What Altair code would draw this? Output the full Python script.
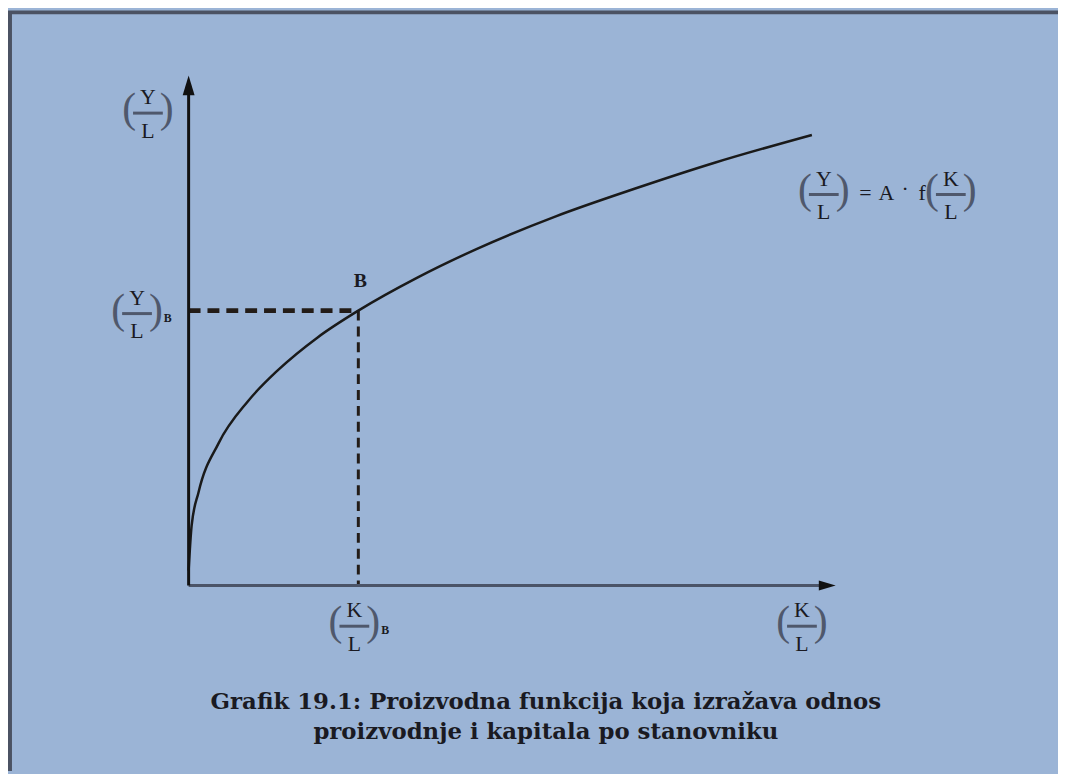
import altair as alt
import pandas as pd

# ---- data (K/L on x, Y/L on y, arbitrary units) ----
k_l = [0.0, 0.03, 0.1, 0.3, 0.6, 0.9, 1.3, 1.71, 2.3, 2.9, 3.7, 4.5, 5.3, 6.28]
y_l = [0.15, 0.60, 0.94, 1.43, 1.86, 2.17, 2.50, 2.77, 3.10, 3.39, 3.72, 4.00, 4.26, 4.54]
point_b = [1.71, 2.77]

frac_num = ["Y", "Y", "K", "K", "Y", "K"]
frac_den = ["L", "L", "L", "L", "L", "L"]
frac_sub = ["", "B", "B", "", "", ""]

formula_tokens = ["=", "A", "·", "f"]
caption_lines = [
    "Grafik 19.1: Proizvodna funkcija koja izražava odnos",
    "proizvodnje i kapitala po stanovniku",
]

# ---- layout (data units) ----
X_DOM = [-1.82, 8.76]
Y_DOM = [-1.87, 5.79]
frac_cx = [-0.41, -0.52, 1.67, 6.18, 6.40, 7.68]
frac_cy = [4.76, 2.74, -0.41, -0.41, 3.94, 3.94]
formula_x = [6.82, 7.03, 7.22, 7.39]
formula_y = [3.95, 3.95, 3.99, 3.95]
caption_x = 3.60
caption_y = [-1.17, -1.48]
y_arrow = 5.04
x_arrow = 6.435

BG = "#9BB4D6"
INK = "#1a1a22"
GREY = "#4f586c"

xs = alt.Scale(domain=X_DOM, nice=False, zero=False)
ys = alt.Scale(domain=Y_DOM, nice=False, zero=False)


def X(f):
    return alt.X(f, type="quantitative", scale=xs, axis=None)


def Y(f):
    return alt.Y(f, type="quantitative", scale=ys, axis=None)


def X2(f):
    return alt.X2(f)


def Y2(f):
    return alt.Y2(f)


# frame (top and left edges)
frame_top = alt.Chart(pd.DataFrame({"x": [X_DOM[0]], "x2": [X_DOM[1]], "y": [5.775]})).mark_rule(
    color="#4b5263", strokeWidth=4
).encode(x=X("x"), x2=X2("x2"), y=Y("y"))
frame_left = alt.Chart(pd.DataFrame({"x": [-1.80], "y": [Y_DOM[0]], "y2": [Y_DOM[1]]})).mark_rule(
    color="#4b5263", strokeWidth=4
).encode(x=X("x"), y=Y("y"), y2=Y2("y2"))

# axes
y_axis = alt.Chart(pd.DataFrame({"x": [0], "y": [0], "y2": [y_arrow]})).mark_rule(
    color="#111111", strokeWidth=3
).encode(x=X("x"), y=Y("y"), y2=Y2("y2"))
x_axis = alt.Chart(pd.DataFrame({"x": [0], "x2": [x_arrow], "y": [0]})).mark_rule(
    color="#4b5468", strokeWidth=3
).encode(x=X("x"), x2=X2("x2"), y=Y("y"))
y_head = alt.Chart(pd.DataFrame({"x": [0], "y": [y_arrow]})).mark_point(
    shape="M0,-1L0.6,1L-0.6,1Z", filled=True, size=400, color="#111111", opacity=1, strokeWidth=0
).encode(x=X("x"), y=Y("y"))
x_head = alt.Chart(pd.DataFrame({"x": [x_arrow], "y": [0]})).mark_point(
    shape="M1,0L-1,-0.6L-1,0.6Z", filled=True, size=289, color="#111111", opacity=1, strokeWidth=0
).encode(x=X("x"), y=Y("y"))

# curve
curve = alt.Chart(pd.DataFrame({"k": k_l, "y": y_l})).mark_line(
    interpolate="monotone", color="#1a1a1a", strokeWidth=2.5
).encode(x=X("k"), y=Y("y"), order="k:Q")

# dashed guides to B
bdf = pd.DataFrame({"x0": [0], "y0": [0], "bx": [point_b[0]], "by": [point_b[1]]})
h_dash = alt.Chart(bdf).mark_rule(strokeDash=[12, 7], strokeWidth=5, color="#231c18").encode(
    x=X("x0"), x2=X2("bx"), y=Y("by")
)
v_dash = alt.Chart(bdf).mark_rule(strokeDash=[10, 6], strokeWidth=3, color="#231c18").encode(
    x=X("bx"), y=Y("by"), y2=Y2("y0")
)
b_label = alt.Chart(bdf).mark_text(
    text="B", font="Liberation Serif", fontSize=20, fontWeight="bold", color=INK, dx=2, dy=-30
).encode(x=X("bx"), y=Y("by"))

# fractions
fdf = pd.DataFrame({"num": frac_num, "den": frac_den, "sub": frac_sub, "cx": frac_cx, "cy": frac_cy})
fbase = alt.Chart(fdf)
f_num = fbase.mark_text(font="Liberation Serif", fontSize=22, color=INK, dy=-16).encode(
    x=X("cx"), y=Y("cy"), text="num:N"
)
f_den = fbase.mark_text(font="Liberation Serif", fontSize=22, color=INK, dy=18).encode(
    x=X("cx"), y=Y("cy"), text="den:N"
)
f_lp = fbase.mark_text(text="(", font="Liberation Serif", fontSize=42, color=GREY, dx=-19, dy=-4).encode(
    x=X("cx"), y=Y("cy")
)
f_rp = fbase.mark_text(text=")", font="Liberation Serif", fontSize=42, color=GREY, dx=19, dy=-4).encode(
    x=X("cx"), y=Y("cy")
)
f_bar = fbase.transform_calculate(x1="datum.cx - 0.15", x2="datum.cx + 0.15").mark_rule(
    color=GREY, strokeWidth=3
).encode(x=X("x1"), x2=X2("x2"), y=Y("cy"))
f_sub = fbase.transform_filter("datum.sub != ''").mark_text(
    font="Liberation Serif", fontSize=12, fontWeight="bold", color=INK, dx=31, dy=4
).encode(x=X("cx"), y=Y("cy"), text="sub:N")

# formula tokens
tdf = pd.DataFrame({"t": formula_tokens, "x": formula_x, "y": formula_y})
tokens = alt.Chart(tdf).mark_text(font="Liberation Serif", fontSize=22, color=INK).encode(
    x=X("x"), y=Y("y"), text="t:N"
)

# caption
cdf = pd.DataFrame({"t": caption_lines, "x": [caption_x] * 2, "y": caption_y})
caption = alt.Chart(cdf).mark_text(font="DejaVu Serif", fontSize=23, fontWeight="bold", color=INK).encode(
    x=X("x"), y=Y("y"), text="t:N"
)

chart = (
    alt.layer(
        frame_top, frame_left, h_dash, v_dash, curve, x_axis, y_axis, x_head, y_head,
        b_label, f_bar, f_lp, f_rp, f_num, f_den, f_sub, tokens, caption,
    )
    .properties(width=1058, height=766, background=BG, padding=0, autosize="none")
    .configure_view(stroke=None)
)

chart.save("out.html", embed_options={"renderer": "svg", "actions": False})
